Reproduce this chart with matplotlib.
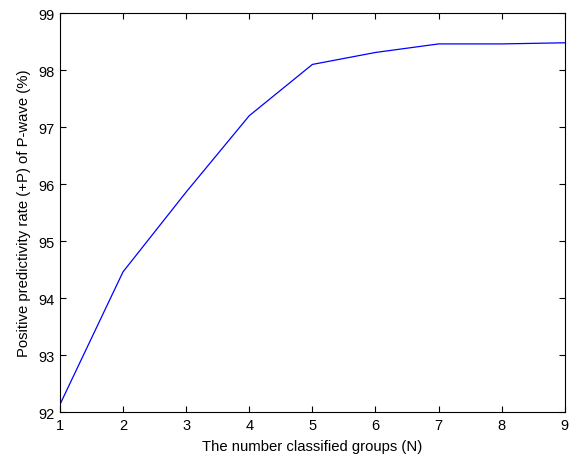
import matplotlib
matplotlib.use("Agg")
import matplotlib.pyplot as plt

groups = [1, 2, 3, 4, 5, 6, 7, 8, 9]
ppr = [92.13, 94.46, 95.86, 97.2, 98.1, 98.31, 98.46, 98.46, 98.48]

plt.rcParams['font.family'] = ['Liberation Sans', 'DejaVu Sans']

fig = plt.figure(figsize=(5.7, 4.56), dpi=100)
ax = fig.add_axes([0.105, 0.094, 0.886, 0.875])
ax.plot(groups, ppr, color='blue', linewidth=0.9)
ax.set_xlim(1, 9)
ax.set_ylim(92, 99)
ax.set_xticks(groups)
ax.set_yticks(range(92, 100))
ax.tick_params(direction='in', top=True, right=True, labelsize=10.5, length=4, pad=4)
ax.set_xlabel('The number classified groups (N)', fontsize=10.7, labelpad=5)
ax.set_ylabel('Positive predictivity rate (+P) of P-wave (%)', fontsize=10.7, labelpad=5)
for s in ax.spines.values():
    s.set_linewidth(0.8)

fig.savefig('out.png', dpi=100)
